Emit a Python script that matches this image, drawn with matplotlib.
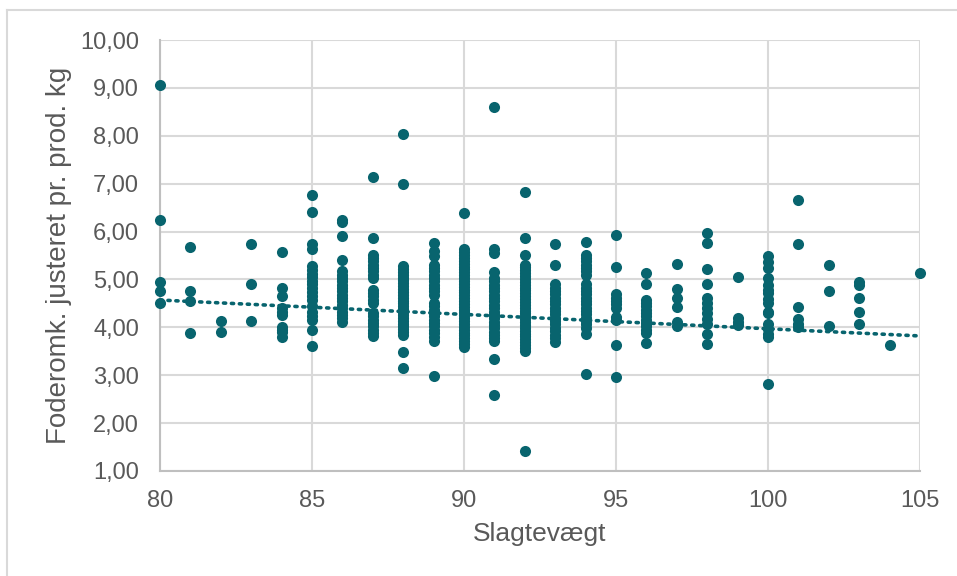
import matplotlib
matplotlib.use("Agg")
import matplotlib.pyplot as plt
import numpy as np

slagtevaegt = [80, 81, 82, 83, 84, 85, 86, 87, 88, 89, 90, 91, 92, 93,
               94, 95, 96, 97, 98, 99, 100, 101, 102, 103, 104, 105]

foderomk = [
    [9.06, 6.24, 4.95, 4.76, 4.51],                                   # 80
    [5.68, 4.76, 4.54, 3.89],                                         # 81
    [4.13, 3.90],                                                     # 82
    [5.75, 4.91, 4.13],                                               # 83
    [5.58, 4.83, 4.66, 4.41, 4.33, 4.25, 4.01, 3.95, 3.90, 3.79],     # 84
    [6.77, 6.41, 5.73, 5.63, 5.28, 5.20, 5.12, 5.05, 4.97, 4.90, 4.82,
     4.74, 4.66, 4.58, 4.44, 4.33, 4.24, 4.16, 3.95, 3.61],           # 85
    [6.24, 6.19, 5.91, 5.40, 5.17, 5.10, 5.03, 4.96, 4.89, 4.82, 4.75,
     4.68, 4.61, 4.54, 4.47, 4.40, 4.33, 4.26, 4.19, 4.12],           # 86
    [7.14, 5.86, 5.52, 5.45, 5.38, 5.31, 5.24, 5.17, 5.10, 5.03, 4.79,
     4.72, 4.65, 4.58, 4.51, 4.30, 4.23, 4.16, 4.09, 4.02, 3.95, 3.88,
     3.82],                                                           # 87
    [8.03, 7.00, 5.28, 5.22, 5.16, 5.10, 5.04, 4.98, 4.92, 4.86, 4.80,
     4.74, 4.68, 4.62, 4.56, 4.50, 4.44, 4.38, 4.32, 4.26, 4.20, 4.14,
     4.08, 4.02, 3.96, 3.90, 3.84, 3.49, 3.15],                       # 88
    [5.77, 5.60, 5.49, 5.31, 5.24, 5.17, 5.10, 5.03, 4.96, 4.89, 4.82,
     4.75, 4.68, 4.51, 4.44, 4.37, 4.30, 4.23, 4.16, 4.09, 4.02, 3.95,
     3.88, 3.80, 3.72, 2.98],                                         # 89
    [6.38, 5.63, 5.57, 5.51, 5.45, 5.39, 5.33, 5.27, 5.21, 5.15, 5.09,
     5.03, 4.97, 4.91, 4.85, 4.79, 4.73, 4.67, 4.61, 4.55, 4.49, 4.43,
     4.37, 4.31, 4.25, 4.19, 4.13, 4.07, 4.01, 3.95, 3.89, 3.83, 3.77,
     3.71, 3.65, 3.59],                                               # 90
    [8.61, 5.63, 5.56, 5.16, 5.03, 4.96, 4.89, 4.82, 4.75, 4.68, 4.61,
     4.54, 4.47, 4.40, 4.33, 4.26, 4.19, 4.12, 4.05, 3.98, 3.91, 3.84,
     3.77, 3.71, 3.33, 2.58],                                         # 91
    [6.82, 5.86, 5.51, 5.31, 5.25, 5.19, 5.13, 5.07, 5.01, 4.95, 4.89,
     4.83, 4.77, 4.71, 4.65, 4.59, 4.53, 4.47, 4.41, 4.35, 4.29, 4.23,
     4.17, 4.11, 4.05, 3.99, 3.93, 3.87, 3.81, 3.75, 3.69, 3.63, 3.57,
     3.51, 1.42],                                                     # 92
    [5.73, 5.30, 4.90, 4.83, 4.76, 4.69, 4.62, 4.55, 4.48, 4.41, 4.34,
     4.27, 4.20, 4.13, 4.06, 3.99, 3.92, 3.85, 3.78, 3.70],           # 93
    [5.78, 5.52, 5.45, 5.38, 5.31, 5.24, 5.17, 5.10, 4.90, 4.83, 4.76,
     4.69, 4.62, 4.55, 4.48, 4.41, 4.34, 4.27, 4.20, 4.13, 4.06, 3.99,
     3.87, 3.03],                                                     # 94
    [5.93, 5.26, 4.69, 4.62, 4.55, 4.48, 4.41, 4.21, 4.16, 3.63, 2.96],  # 95
    [5.14, 4.90, 4.58, 4.51, 4.44, 4.37, 4.30, 4.23, 4.16, 4.09, 4.02,
     3.95, 3.89, 3.68],                                               # 96
    [5.32, 4.80, 4.62, 4.43, 4.11, 4.02],                             # 97
    [5.96, 5.77, 5.22, 4.90, 4.62, 4.51, 4.41, 4.30, 4.18, 4.06, 3.87,
     3.65],                                                           # 98
    [5.05, 4.20, 4.11, 4.04],                                         # 99
    [5.49, 5.37, 5.23, 5.02, 4.88, 4.79, 4.71, 4.60, 4.51, 4.32, 4.29,
     4.08, 3.97, 3.87, 3.79, 2.81],                                   # 100
    [6.65, 5.74, 4.43, 4.18, 4.06, 4.01],                             # 101
    [5.30, 4.75, 4.03],                                               # 102
    [4.95, 4.88, 4.62, 4.32, 4.06],                                   # 103
    [3.63],                                                           # 104
    [5.13],                                                           # 105
]

# linear trendline (value at each end of the x range)
trend_x = [80, 105]
trend_y = [4.57, 3.82]

x_ticks = [80, 85, 90, 95, 100, 105]
y_ticks = [1, 2, 3, 4, 5, 6, 7, 8, 9, 10]
x_title = "Slagtevægt"
y_title = "Foderomk. justeret pr. prod. kg"

teal = "#08646E"
grey_txt = "#595959"
grid_c = "#D9D9D9"

plt.rcParams["font.family"] = ["Liberation Sans", "DejaVu Sans"]

fig = plt.figure(figsize=(9.57, 5.76), dpi=100)
ax = fig.add_axes([160 / 957, 1 - 471 / 576, 760 / 957, 431 / 576])

xs = np.concatenate([[x] * len(ys) for x, ys in zip(slagtevaegt, foderomk)])
ys = np.concatenate([np.array(v, dtype=float) for v in foderomk])

ax.scatter(xs, ys, s=64, color=teal, zorder=3, linewidths=0, clip_on=False)

ax.plot(trend_x, trend_y, linestyle=(0, (0.6, 1.6)), dash_capstyle="round",
        color=teal, linewidth=2.6, zorder=4)

ax.set_xlim(80, 105)
ax.set_ylim(1, 10)
ax.set_xticks(x_ticks)
ax.set_yticks(y_ticks)
ax.set_xticklabels([str(v) for v in x_ticks])
ax.set_yticklabels([f"{v:.2f}".replace(".", ",") for v in y_ticks])
ax.grid(True, color=grid_c, linewidth=1.5, zorder=0)
ax.set_axisbelow(True)
ax.tick_params(length=0, labelsize=17, labelcolor=grey_txt)
ax.tick_params(axis="y", pad=15)
ax.tick_params(axis="x", pad=14)
for side in ["top", "right"]:
    ax.spines[side].set_visible(False)
for side in ["left", "bottom"]:
    ax.spines[side].set_color("#BFBFBF")
    ax.spines[side].set_linewidth(1.5)

ax.set_xlabel(x_title, fontsize=19, color=grey_txt, labelpad=7)
ax.set_ylabel(y_title, fontsize=20, color=grey_txt, labelpad=6)

# chart area border
fig.add_artist(plt.Line2D([7 / 957, 7 / 957], [0, 1 - 10 / 576], transform=fig.transFigure,
                          color=grid_c, linewidth=1.5))
fig.add_artist(plt.Line2D([7 / 957, 1], [1 - 10 / 576, 1 - 10 / 576], transform=fig.transFigure,
                          color=grid_c, linewidth=1.5))

fig.savefig("out.png", dpi=100)
